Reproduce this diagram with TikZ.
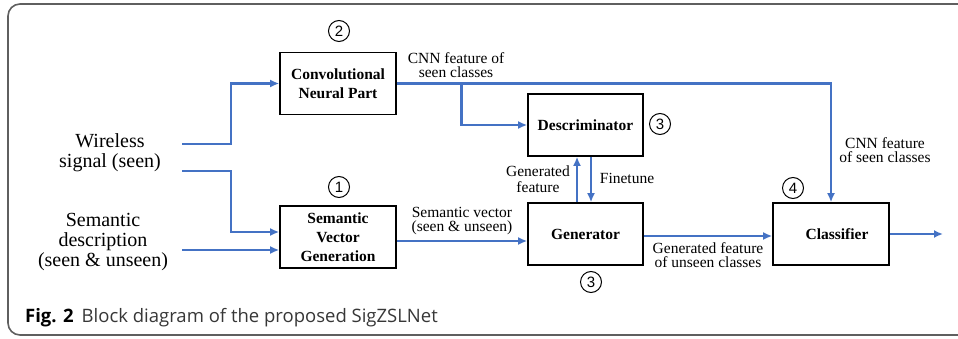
\documentclass[tikz,border=0pt]{standalone}
\usepackage{fontspec}
\setmainfont{Liberation Serif}
\setsansfont{Liberation Sans}
\newfontfamily\capfont{Open Sans}
\usetikzlibrary{arrows.meta}
\definecolor{flowblue}{RGB}{68,114,196}
\definecolor{framegray}{RGB}{95,95,95}
\definecolor{captext}{RGB}{55,55,55}

\begin{document}
\begin{tikzpicture}[x=1pt, y=-1pt,
  block/.style={draw, line width=1.6pt, minimum width=116pt, minimum height=62pt, inner sep=0pt, align=center, font=\fontsize{15.5}{19}\selectfont\bfseries},
  num/.style={circle, draw, line width=1pt, minimum size=21pt, inner sep=0pt, font=\fontsize{15}{15}\selectfont\sffamily},
  flow/.style={flowblue, line width=2.8pt},
  tip/.style={flow, -{Latex[length=9pt,width=8pt]}},
  lbl/.style={align=center, inner sep=0pt, font=\fontsize{15.5}{14.5}\selectfont},
  src/.style={align=center, inner sep=0pt, font=\fontsize{20}{20}\selectfont}]
\useasboundingbox (0,0) rectangle (958,339);
% cadre arrondi de la figure
\begin{scope}
\clip (0,0) rectangle (958,339);
\draw[framegray, line width=1.6pt, rounded corners=12pt] (8,4) rectangle (1000,335);
\end{scope}

% blocs
\node [block](conv) at (338, 83.5){Convolutional\\Neural Part};
\node [block](sem) at (338, 237){Semantic\\Vector\\Generation};
\node [block, minimum width=115pt](disc) at (585.5, 125){Descriminator};
\node [block, minimum width=115pt](gen) at (585.5, 234){Generator};
\node [block](cls) at (831, 234){\hspace{12pt}Classifier};

% numeros
\node [num](n2) at (339, 31){2};
\node [num](n1) at (339, 187){1};
\node [num](n3a) at (660, 124){3};
\node [num](n3b) at (591, 282){3};
\node [num](n4) at (793, 188){4};

% entrees
\node [src](wire) at (110, 153){Wireless\\signal (seen)};
\node [src](desc) at (103, 242){Semantic\\description\\(seen \& unseen)};
\coordinate (wA) at (182, 144);
\coordinate (wB) at (182, 171);
\coordinate (dA) at (182, 250);
\coordinate (out) at (943, 234);
\coordinate (br) at ([xshift=65pt]conv.east);

% fleches
\draw[tip] (wA) -- ([xshift=49pt]wA) |- (conv.west);
\draw[tip] (wB) -- ([xshift=49pt]wB) |- ([yshift=5pt]sem.west);
\draw[tip] (dA) -- (dA -| sem.west);
\draw[tip] (conv.east) -| (cls.north);
\draw[tip] (br) |- (disc.west);
\draw[tip] ([yshift=-4pt]sem.east) -- ([yshift=-4pt]sem.east -| gen.west);
\draw[tip] ([xshift=-8.5pt]gen.north) -- ([xshift=-8.5pt]disc.south);
\draw[tip] ([xshift=5.5pt]disc.south) -- ([xshift=5.5pt]gen.north);
\draw[tip] ([yshift=-2pt]gen.east) -- ([yshift=-2pt]gen.east -| cls.west);
\draw[tip] (cls.east) -- (cls.east -| out);

% textos das setas
\node [lbl](tcnn1) at (456, 65){CNN feature of\\seen classes};
\node [lbl](tcnn2) at (885, 150){CNN feature\\of seen classes};
\node [lbl](tsem) at (462, 221){Semantic vector\\(seen \& unseen)};
\node [lbl, font=\fontsize{15.5}{16}\selectfont](tgenf) at (538, 179){Generated\\feature};
\node [lbl](tfine) at (627, 178){Finetune};
\node [lbl](tunseen) at (708, 255){Generated feature\\of unseen classes};

% legende
\node [anchor=base west, inner sep=0pt, font=\capfont\fontsize{18.5}{20}\selectfont](cap) at (25, 322){\textbf{Fig. 2}\hspace{8pt}\textcolor{captext}{Block diagram of the proposed SigZSLNet}};
\end{tikzpicture}
\end{document}
